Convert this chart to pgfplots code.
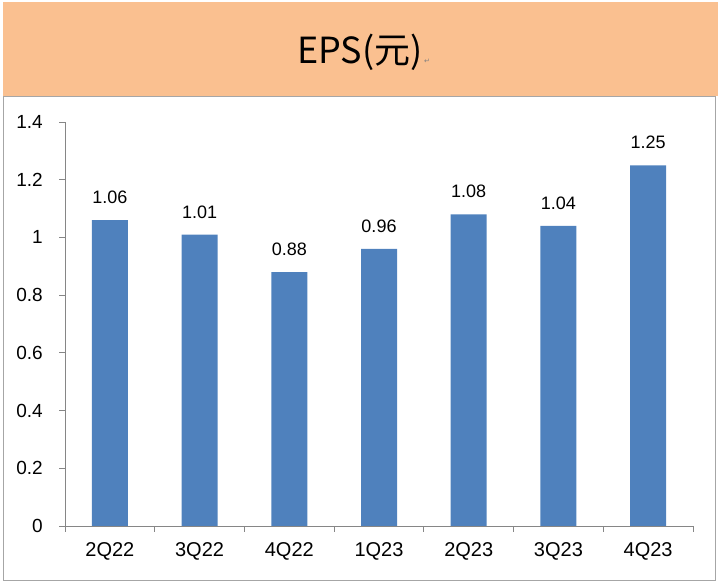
\documentclass[border=0pt]{standalone}
\usepackage{fontspec}
\setmainfont{Liberation Sans}
\newfontfamily\cjk{Noto Sans CJK TC}
\newfontfamily\djv{DejaVu Sans}
\usepackage{pgfplots}
\pgfplotsset{compat=1.18}
\usepackage{pgfplotstable}

\definecolor{barblue}{HTML}{4F81BD}
\definecolor{banner}{HTML}{FAC090}
\definecolor{axisgray}{HTML}{868686}
\definecolor{framegray}{HTML}{A6A6A6}

% quarter index, label, EPS
\pgfplotstableread{
x label eps
0 1.06 1.06
1 1.01 1.01
2 0.88 0.88
3 0.96 0.96
4 1.08 1.08
5 1.04 1.04
6 1.25 1.25
}\epsdata

\begin{document}
\begin{tikzpicture}[x=1bp,y=1bp]
\useasboundingbox (0,0) rectangle (720,584);
\fill[banner] (3,488) rectangle (718,582);
\draw[framegray,line width=1bp] (3.5,3.5) rectangle (715,487);
\node[font=\cjk\fontsize{36bp}{40bp}\selectfont, anchor=base, inner sep=0pt] at (360,520) {EPS(元)};
\node[font=\djv\fontsize{7bp}{8bp}\selectfont, text=gray, anchor=base west, inner sep=0pt] at (424,520) {↵};
\coordinate (O) at (65,58);
\begin{axis}[
  at={(O)}, anchor=south west,
  scale only axis, width=628bp, height=404bp,
  xmin=-0.5, xmax=6.5, ymin=0, ymax=1.4,
  axis x line=bottom, axis y line=left,
  axis line style={draw=axisgray, line width=0.8bp, -},
  tick style={draw=axisgray, line width=0.8bp},
  major tick length=6bp, tick align=outside,
  xtick={-0.5,0.5,1.5,2.5,3.5,4.5,5.5,6.5},
  x tick label as interval,
  xticklabels={2Q22,3Q22,4Q22,1Q23,2Q23,3Q23,4Q23},
  ytick={0,0.2,0.4,0.6,0.8,1,1.2,1.4},
  yticklabels={0,0.2,0.4,0.6,0.8,1,1.2,1.4},
  /pgf/number format/assume math mode=true,
  xticklabel style={font=\fontsize{20bp}{24bp}\selectfont, inner sep=0pt, yshift=-10bp},
  yticklabel style={font=\fontsize{19bp}{22bp}\selectfont, inner sep=0pt, xshift=-16bp},
  clip=false,
]
\addplot[ybar, bar width=36bp, fill=barblue, draw=none,
  nodes near coords, point meta=explicit symbolic,
  nodes near coords style={font=\fontsize{18bp}{21bp}\selectfont, anchor=south, inner sep=0pt, yshift=16bp}]
  table[x=x, y=eps, meta=label] {\epsdata};
\end{axis}
\end{tikzpicture}
\end{document}
